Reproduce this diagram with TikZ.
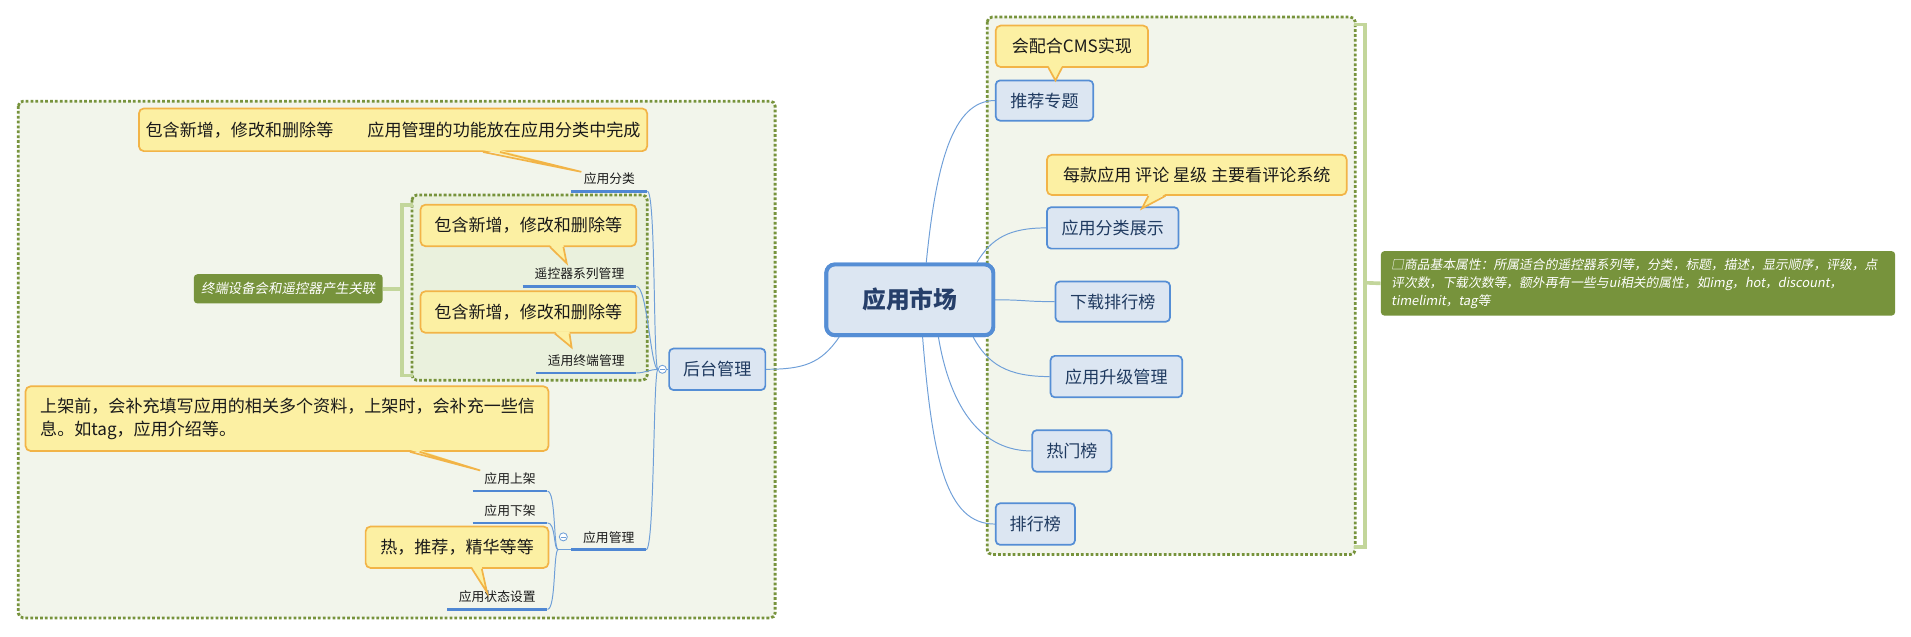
\documentclass[tikz,border=0pt]{standalone}
\usepackage{fontspec}
\setmainfont{Noto Sans CJK SC}
\newfontfamily\slfont[FakeSlant=0.18]{Noto Sans CJK SC}
\usetikzlibrary{calc}
\definecolor{cOlive}{HTML}{77933C}
\definecolor{cBrk}{HTML}{C3D69B}
\definecolor{cConn}{HTML}{6F9FD8}
\definecolor{cUl}{HTML}{4F87D3}
\definecolor{cTopicB}{HTML}{558ED5}
\definecolor{cTopicF}{HTML}{DCE6F2}
\definecolor{cTopicT}{HTML}{1F3A60}
\definecolor{cRootT}{HTML}{263F6A}
\definecolor{cCallB}{HTML}{F2B447}
\definecolor{cCallF}{HTML}{FCF0A3}
\definecolor{cText}{HTML}{1A1A1A}
\definecolor{cNote}{HTML}{77933C}
\definecolor{cBoxF}{HTML}{F2F5EB}
\definecolor{cInnerF}{HTML}{EAF1DD}
\newcommand\callptr[4]{%
  \fill[cCallF] ([xshift=#2,yshift=1.6pt]#1.south west) -- (#4) -- ([xshift=#3,yshift=1.6pt]#1.south west) -- cycle;
  \draw[cline] ([xshift=#2]#1.south west) -- (#4) -- ([xshift=#3]#1.south west);
}
\tikzset{
  dotbox/.style={draw=cOlive, line width=2.3pt, dash pattern=on 2.3pt off 1.7pt, rounded corners=4pt},
  brk/.style={draw=cBrk, line width=3pt},
  conn/.style={draw=cConn, line width=0.8pt},
  uline/.style={draw=cUl, line width=2pt},
  topic/.style={draw=cTopicB, fill=cTopicF, line width=1.4pt, rounded corners=3.5pt, inner sep=0pt, text=cTopicT, font=\fontsize{14}{16}\selectfont},
  rootnode/.style={draw=cTopicB, fill=cTopicF, line width=3.2pt, rounded corners=7pt, inner sep=0pt, text=cRootT, font=\fontsize{19.5}{22}\selectfont\bfseries, minimum width=137pt, minimum height=58pt},
  callout/.style={draw=cCallB, fill=cCallF, line width=1.4pt, rounded corners=4pt, inner sep=0pt, text=cText, font=\fontsize{14}{16}\selectfont},
  cline/.style={draw=cCallB, line width=1.4pt, line join=miter},
  lbl/.style={inner sep=0pt, text depth=6pt, anchor=south, text=cText, font=\fontsize{10.5}{12}\selectfont},
  gnote/.style={fill=cNote, rounded corners=3pt, text=white, inner sep=0pt},
  collapse/.style={circle, draw=cConn, fill=white, line width=0.7pt, minimum size=6.6pt, inner sep=0pt,
    path picture={\draw[cConn, line width=0.6pt] ([xshift=-1.9pt]path picture bounding box.center) -- ([xshift=1.9pt]path picture bounding box.center);}},
}
\begin{document}
\begin{tikzpicture}[x=1pt,y=-1pt]
\useasboundingbox (0,0) rectangle (1568,522);

% boundaries
\draw[dotbox, fill=cBoxF] (15,83) rectangle (636,507);
\draw[dotbox, fill=cBoxF] (810,14) rectangle (1112,455);
\draw[dotbox, fill=cInnerF] (338,160) rectangle (531,312);

% root and main topics
\node[rootnode] (root) at (746.5,246) {应用市场};
\node[topic, minimum width=80pt, minimum height=33pt] (tj) at (857,82.5) {推荐专题};
\node[topic, minimum width=108pt, minimum height=34pt] (fl) at (913,187) {应用分类展示};
\node[topic, minimum width=94pt, minimum height=33pt] (xz) at (913,247.5) {下载排行榜};
\node[topic, minimum width=108pt, minimum height=34pt] (sj) at (916,309) {应用升级管理};
\node[topic, minimum width=65pt, minimum height=34pt] (rm) at (879.5,370) {热门榜};
\node[topic, minimum width=65pt, minimum height=34pt] (ph) at (849.5,430) {排行榜};
\node[topic, minimum width=79pt, minimum height=34pt] (ht) at (588.5,303) {后台管理};

% connectors from root (drawn behind root)
\begin{scope}[on background layer/.style={}]
\end{scope}
\draw[conn] ([xshift=13.5pt]root.north) .. controls +(8,-80) and +(-35,0) .. (tj.west);
\draw[conn] ([xshift=55pt]root.north) .. controls +(12,-20) and +(-30,0) .. (fl.west);
\draw[conn] (root.east) .. controls +(25,0) and +(-25,0) .. (xz.west);
\draw[conn] ([xshift=52pt]root.south) .. controls +(12,22) and +(-35,0) .. (sj.west);
\draw[conn] ([xshift=23.5pt]root.south) .. controls +(10,60) and +(-40,0) .. (rm.west);
\draw[conn] ([xshift=10.5pt]root.south) .. controls +(8,100) and +(-40,0) .. (ph.west);
\draw[conn] ([xshift=-58pt]root.south) .. controls +(-15,22) and +(30,0) .. (ht.east);
% redraw root on top
\node[rootnode] at (root.center) {应用市场};

% underlined subtopics
\node[lbl, minimum width=62pt] (L1) at (500,157) {应用分类};
\node[lbl, minimum width=93pt] (L2) at (475.5,235) {遥控器系列管理};
\node[lbl, minimum width=82pt] (L3) at (481,306) {适用终端管理};
\node[lbl, minimum width=61pt] (L4) at (499.5,451) {应用管理};
\node[lbl, minimum width=61pt] (L5) at (418.5,403) {应用上架};
\node[lbl, minimum width=61pt] (L6) at (418.5,429) {应用下架};
\node[lbl, minimum width=82pt] (L7) at (408,500) {应用状态设置};
\foreach \n in {L1,L2,L3,L4,L5,L6,L7}{\draw[uline] (\n.south west) -- (\n.south east);}

% collapse markers and branch connectors
\node[collapse] (c1) at (543.5,303) {};
\draw[conn] (c1.east) -- (ht.west);
\draw[conn] (L1.south east) .. controls +(7,0) and +(-4,0) .. (c1.west);
\draw[conn] (L2.south east) .. controls +(9,0) and +(-6,0) .. (c1.west);
\draw[conn] (L3.south east) .. controls +(7,0) and +(-6,0) .. (c1.west);
\draw[conn] (L4.south east) .. controls +(7,0) and +(-4,0) .. (c1.west);
\coordinate (J) at (458,451);
\node[collapse] (c2) at (462.2,440.5) {};
\draw[conn] (J) -- (L4.south west);
\draw[conn] (L5.south east) .. controls +(7,0) and +(-4,0) .. (J);
\draw[conn] (L6.south east) .. controls +(7,0) and +(-4,0) .. (J);
\draw[conn] (L7.south east) .. controls +(7,0) and +(-4,0) .. (J);

% callouts
\node[callout, minimum width=125pt, minimum height=34pt] (C4) at (879.5,38) {会配合CMS实现};
\node[callout, minimum width=246pt, minimum height=33pt] (C5) at (982,143.5) {每款应用 评论 星级 主要看评论系统};
\node[callout, minimum width=417pt, minimum height=35pt] (T1) at (322.5,106.5) {包含新增，修改和删除等\hspace{2em}应用管理的功能放在应用分类中完成};
\node[callout, minimum width=177pt, minimum height=34pt] (C1) at (433.5,185) {包含新增，修改和删除等};
\node[callout, minimum width=177pt, minimum height=34pt] (C2) at (433.5,256) {包含新增，修改和删除等};
\node[callout, minimum height=53pt, inner xsep=12pt, text width=405pt, align=left, font=\fontsize{14}{19}\selectfont] (T2) at (235.5,343.5) {上架前，会补充填写应用的相关多个资料，上架时，会补充一些信\\息。如tag，应用介绍等。};
\node[callout, minimum width=150pt, minimum height=34pt] (C3) at (375,449) {热，推荐，精华等等};

\coordinate (p4) at (866,66);
\coordinate (p5) at (937,171);
\coordinate (p1) at (477,141);
\coordinate (pc1) at (465,216);
\coordinate (pc2) at (469,285);
\coordinate (p2) at (394,386);
\coordinate (p3) at (399.6,486);
\callptr{C4}{44pt}{55pt}{p4}
\callptr{C5}{84pt}{98pt}{p5}
\callptr{T1}{283pt}{297pt}{p1}
\callptr{C1}{107pt}{118pt}{pc1}
\callptr{C2}{111pt}{123pt}{pc2}
\callptr{T2}{316pt}{324pt}{p2}
\callptr{C3}{88pt}{96pt}{p3}

% summary notes and brackets
\node[gnote, minimum width=422pt, minimum height=53pt, inner xsep=8.5pt, text width=405pt, align=left, font=\fontsize{10.5}{14.9}\selectfont] (N1) at (1344,232.5)
  {\slfont □商品基本属性：所属适合的遥控器系列等，分类，标题，描述，显示顺序，评级，点\\评次数，下载次数等，额外再有一些与ui相关的属性，如img，hot，discount，\\timelimit，tag等};
\node[gnote, minimum width=155pt, minimum height=24pt, font=\fontsize{11}{13}\selectfont] (N2) at (236.5,237) {\slfont 终端设备会和遥控器产生关联};
\draw[brk] (1111,20) -- (1120,20) -- (1120,449) -- (1111,449);
\draw[brk] (1120,232) -- (N1.west);
\draw[brk] (339,168) -- (330,168) -- (330,308) -- (339,308);
\draw[brk] (N2.east) -- (330,237);
\end{tikzpicture}
\end{document}
